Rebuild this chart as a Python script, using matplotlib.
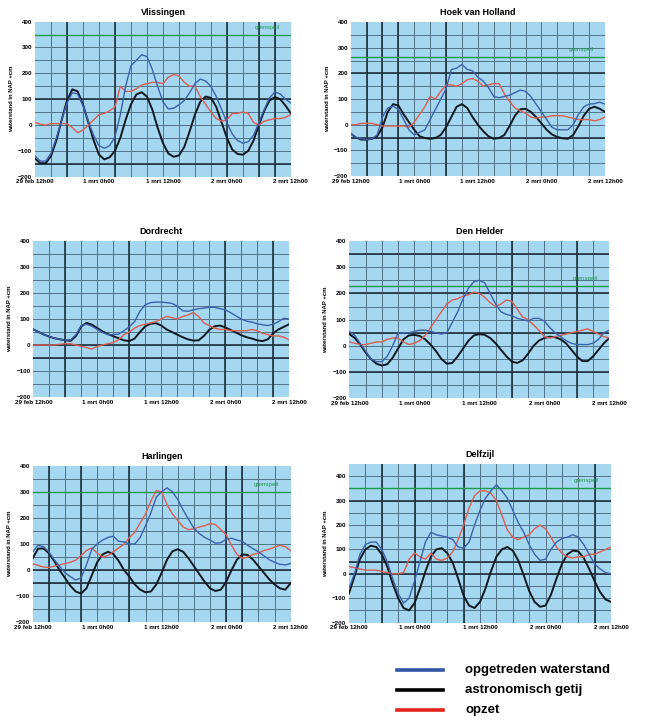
import matplotlib
matplotlib.use('Agg')
import matplotlib.pyplot as plt
import numpy as np

plt.rcParams['font.family'] = ['Liberation Sans', 'DejaVu Sans']

hours = np.arange(49)
tick_hours = [0, 12, 24, 36, 48]
tick_labels = ['29 feb 12h00', '1 mrt 0h00', '1 mrt 12h00', '2 mrt 0h00', '2 mrt 12h00']

# --- Vlissingen
vlis_gemeten = [-120, -140, -140, -110, -50, 20, 85, 125, 120, 75, 15, -40, -80, -90, -80, -45, 40,
                150, 230, 250, 272, 265, 215, 150, 90, 62, 65, 78, 95, 125, 160, 178, 170, 150, 110,
                60, 10, -35, -60, -70, -65, -40, 10, 60, 105, 128, 120, 100, 85]
vlis_getij = [-130, -148, -148, -120, -60, 20, 95, 138, 130, 80, 10, -60, -115, -133, -125, -100, -50,
              20, 80, 118, 127, 110, 60, -10, -70, -110, -123, -118, -85, -25, 40, 90, 110, 105, 70,
              10, -50, -95, -112, -115, -100, -60, 0, 55, 95, 108, 100, 75, 45]
vlis_opzet = [10, 3, 0, 5, 5, 5, 5, -10, -30, -20, 0, 20, 40, 45, 55, 70, 150, 130, 130, 140, 155,
              160, 165, 165, 160, 185, 195, 190, 165, 150, 150, 110, 80, 50, 25, 15, 20, 45, 45, 50,
              45, 10, 0, 15, 20, 25, 25, 30, 40]

# --- Hoek van Holland
hvh_gemeten = [-35, -50, -55, -57, -55, -40, 30, 65, 72, 60, 20, -20, -40, -30, -20, 20, 60, 100,
               140, 215, 220, 235, 215, 210, 185, 170, 145, 110, 105, 110, 115, 125, 135, 130, 110,
               80, 50, 20, -10, -20, -20, -20, 0, 40, 70, 80, 82, 88, 80]
hvh_getij = [-35, -50, -58, -58, -55, -45, -10, 50, 80, 75, 40, 10, -20, -45, -52, -55, -52, -40, -10,
             30, 70, 80, 65, 30, 0, -25, -45, -55, -52, -40, -5, 35, 60, 62, 50, 30, 5, -20, -38, -48,
             -53, -55, -40, -5, 35, 62, 70, 62, 50]
hvh_opzet = [0, 0, 5, 5, 5, 0, -5, -5, -5, -5, -5, -10, 10, 40, 70, 110, 100, 130, 155, 155, 150, 160,
             175, 180, 170, 150, 155, 160, 160, 120, 90, 65, 55, 45, 30, 25, 30, 30, 35, 35, 35, 30,
             25, 20, 20, 20, 15, 20, 30]

# --- Dordrecht
dord_gemeten = [60, 50, 40, 32, 26, 22, 18, 20, 40, 75, 80, 72, 60, 48, 40, 40, 42, 55, 70, 90, 130,
                155, 163, 165, 165, 163, 160, 150, 132, 130, 135, 140, 142, 145, 145, 140, 135, 125,
                112, 100, 92, 88, 82, 78, 75, 80, 90, 103, 100]
dord_getij = [60, 50, 40, 32, 26, 22, 18, 16, 35, 72, 85, 78, 65, 52, 42, 34, 26, 18, 15, 25, 50, 72,
              82, 84, 75, 60, 50, 40, 30, 22, 17, 18, 35, 58, 72, 75, 68, 58, 48, 38, 30, 25, 18, 15,
              22, 45, 60, 70, 80]
dord_opzet = [0, 0, 0, 0, 0, 3, 5, 5, 0, -5, -10, -15, -5, 0, 5, 10, 20, 40, 50, 65, 75, 80, 85, 90,
              100, 110, 105, 100, 110, 115, 125, 110, 85, 75, 65, 60, 60, 55, 55, 55, 55, 60, 55, 45,
              40, 35, 35, 30, 20]

# --- Den Helder
denh_gemeten = [55, 40, 10, -20, -50, -60, -60, -40, 0, 50, 50, 50, 55, 60, 60, 55, 50, 45, 50, 90,
                130, 180, 220, 245, 250, 240, 200, 160, 130, 120, 115, 105, 100, 95, 105, 105, 95, 70,
                50, 35, 20, 10, 5, 5, 5, 10, 25, 50, 60]
denh_getij = [45, 30, 5, -25, -50, -68, -75, -70, -45, -10, 25, 40, 42, 38, 25, 5, -20, -50, -68, -65,
              -40, -10, 20, 40, 45, 42, 30, 10, -15, -40, -60, -65, -55, -30, 0, 20, 30, 35, 33, 25,
              10, -15, -40, -58, -58, -40, -15, 10, 30]
denh_opzet = [15, 10, 5, 5, 10, 15, 15, 25, 30, 30, 15, 5, 10, 20, 40, 70, 100, 130, 160, 175, 180,
              190, 195, 205, 200, 185, 165, 150, 160, 175, 170, 140, 110, 100, 80, 60, 35, 30, 35, 40,
              45, 50, 55, 60, 65, 55, 45, 35, 30]

# --- Harlingen
harl_gemeten = [70, 95, 90, 70, 40, 15, -10, -25, -38, -30, 20, 80, 100, 115, 125, 130, 110, 108, 100,
                100, 125, 170, 220, 280, 300, 315, 300, 270, 230, 195, 160, 140, 125, 115, 103, 105,
                118, 122, 115, 110, 95, 82, 70, 55, 40, 30, 22, 20, 25]
harl_getij = [45, 82, 83, 65, 35, 0, -30, -60, -82, -90, -70, -20, 30, 60, 70, 62, 35, 0, -25, -55, -75,
              -85, -82, -55, -10, 40, 72, 80, 70, 45, 15, -15, -45, -70, -80, -75, -45, 0, 40, 60, 58,
              40, 15, -10, -35, -55, -70, -75, -50]
harl_opzet = [25, 18, 12, 10, 15, 20, 25, 30, 38, 55, 75, 85, 65, 50, 55, 70, 85, 100, 125, 145, 180,
              215, 265, 305, 300, 250, 215, 190, 165, 155, 158, 165, 170, 178, 175, 155, 135, 95, 60,
              45, 50, 60, 65, 75, 80, 88, 95, 90, 75]

# --- Delfzijl
delf_gemeten = [-60, 0, 80, 120, 130, 130, 100, 50, -20, -80, -120, -100, -30, 50, 130, 170, 160, 155,
                150, 140, 110, 105, 130, 200, 260, 310, 340, 365, 340, 310, 260, 210, 170, 120, 80, 55,
                60, 100, 130, 145, 150, 160, 150, 120, 80, 40, 20, 5, 0]
delf_getij = [-80, -10, 60, 100, 115, 110, 80, 30, -40, -100, -140, -150, -120, -60, 10, 70, 100, 105,
              85, 45, -20, -90, -130, -140, -115, -60, 10, 70, 100, 110, 95, 55, -5, -70, -115, -135,
              -130, -85, -20, 40, 80, 95, 92, 65, 20, -30, -75, -105, -115]
delf_opzet = [30, 25, 20, 15, 15, 15, 10, 5, 0, 0, 5, 60, 85, 70, 60, 85, 60, 55, 65, 90, 140, 200,
              270, 320, 340, 340, 330, 300, 240, 180, 150, 140, 150, 160, 185, 200, 185, 150, 110, 85,
              70, 65, 70, 70, 80, 80, 90, 100, 110]

stations = ['Vlissingen', 'Hoek van Holland', 'Dordrecht', 'Den Helder', 'Harlingen', 'Delfzijl']
gemeten = [vlis_gemeten, hvh_gemeten, dord_gemeten, denh_gemeten, harl_gemeten, delf_gemeten]
getij = [vlis_getij, hvh_getij, dord_getij, denh_getij, harl_getij, delf_getij]
opzet = [vlis_opzet, hvh_opzet, dord_opzet, denh_opzet, harl_opzet, delf_opzet]
grenspeil = [350, 265, None, 230, 300, 352]
ymax = [400, 400, 400, 400, 400, 450]
# darker grid lines (cm levels, hours)
dark_h = [[100, -150], [200, -50], [0, -50], [350, 200, 50, -100], [0, -50], [300, 50, 0]]
dark_v = [[6, 15, 36, 42, 45], [3, 6, 9, 18], [6, 18, 36, 45], [30, 42], [3, 9, 18, 36, 39], [6, 12, 21, 45]]

# axes rectangles in figure fraction
rects = [[0.0538, 0.7553, 0.3930, 0.2147],
         [0.5387, 0.7562, 0.3906, 0.2133],
         [0.0512, 0.4501, 0.3930, 0.2161],
         [0.5366, 0.4483, 0.3994, 0.2179],
         [0.0502, 0.1381, 0.3963, 0.2169],
         [0.5361, 0.1376, 0.4025, 0.2198]]

BG = '#a6d7f1'
GRID = '#52738a'
DARK = '#22323f'
BLUE = '#3a62ad'
RED_LINE = '#dc5e52'
BLACK = '#111820'
GREEN = '#1f9a4a'

fig = plt.figure(figsize=(6.51, 7.22), dpi=100)

for i, name in enumerate(stations):
    ax = fig.add_axes(rects[i])
    ax.set_facecolor(BG)
    ax.set_xlim(0, 48)
    ax.set_ylim(-200, ymax[i])
    for v in np.arange(-150, ymax[i], 50):
        ax.axhline(v, color=GRID, lw=0.7, zorder=1)
    for h in range(3, 48, 3):
        ax.axvline(h, color=GRID, lw=0.7, zorder=1)
    for v in dark_h[i]:
        ax.axhline(v, color=DARK, lw=1.2, zorder=1.5)
    for h in dark_v[i]:
        ax.axvline(h, color=DARK, lw=1.2, zorder=1.5)
    if grenspeil[i] is not None:
        ax.axhline(grenspeil[i], color=GREEN, lw=1.0, zorder=1.6)
        ax.text(43.5, grenspeil[i] + 18, 'grenspeil', color=GREEN, fontsize=4.5,
                ha='center', va='bottom', zorder=3)

    ax.plot(hours, getij[i], color=BLACK, lw=1.4, zorder=3)
    ax.plot(hours, opzet[i], color=RED_LINE, lw=1.0, zorder=4)
    ax.plot(hours, gemeten[i], color=BLUE, lw=1.0, zorder=5)

    ax.set_xticks(tick_hours)
    ax.set_xticklabels(tick_labels)
    ax.set_yticks(np.arange(-200, 401, 100))
    ax.tick_params(length=0, labelsize=4.5, pad=2)
    for lab in ax.get_xticklabels() + ax.get_yticklabels():
        lab.set_fontweight('bold')
    for s in ax.spines.values():
        s.set_visible(False)
    ax.set_ylabel('waterstand in NAP +cm', fontsize=4.3, fontweight='bold', labelpad=3)
    ax.set_title(name, fontsize=6.5, fontweight='bold', pad=5)

# legend at the bottom right
legend_items = [('opgetreden waterstand', '#2f55a4'), ('astronomisch getij', '#000000'), ('opzet', '#e3261b')]
for k, (txt, col) in enumerate(legend_items):
    y = 1 - (670 + 20 * k) / 722
    fig.add_artist(plt.Line2D([397 / 651, 443 / 651], [y, y], color=col, lw=2.6,
                              transform=fig.transFigure))
    fig.text(465 / 651, y, txt, fontsize=9.5, fontweight='bold', va='center', ha='left')

fig.savefig('out.png', dpi=100)
